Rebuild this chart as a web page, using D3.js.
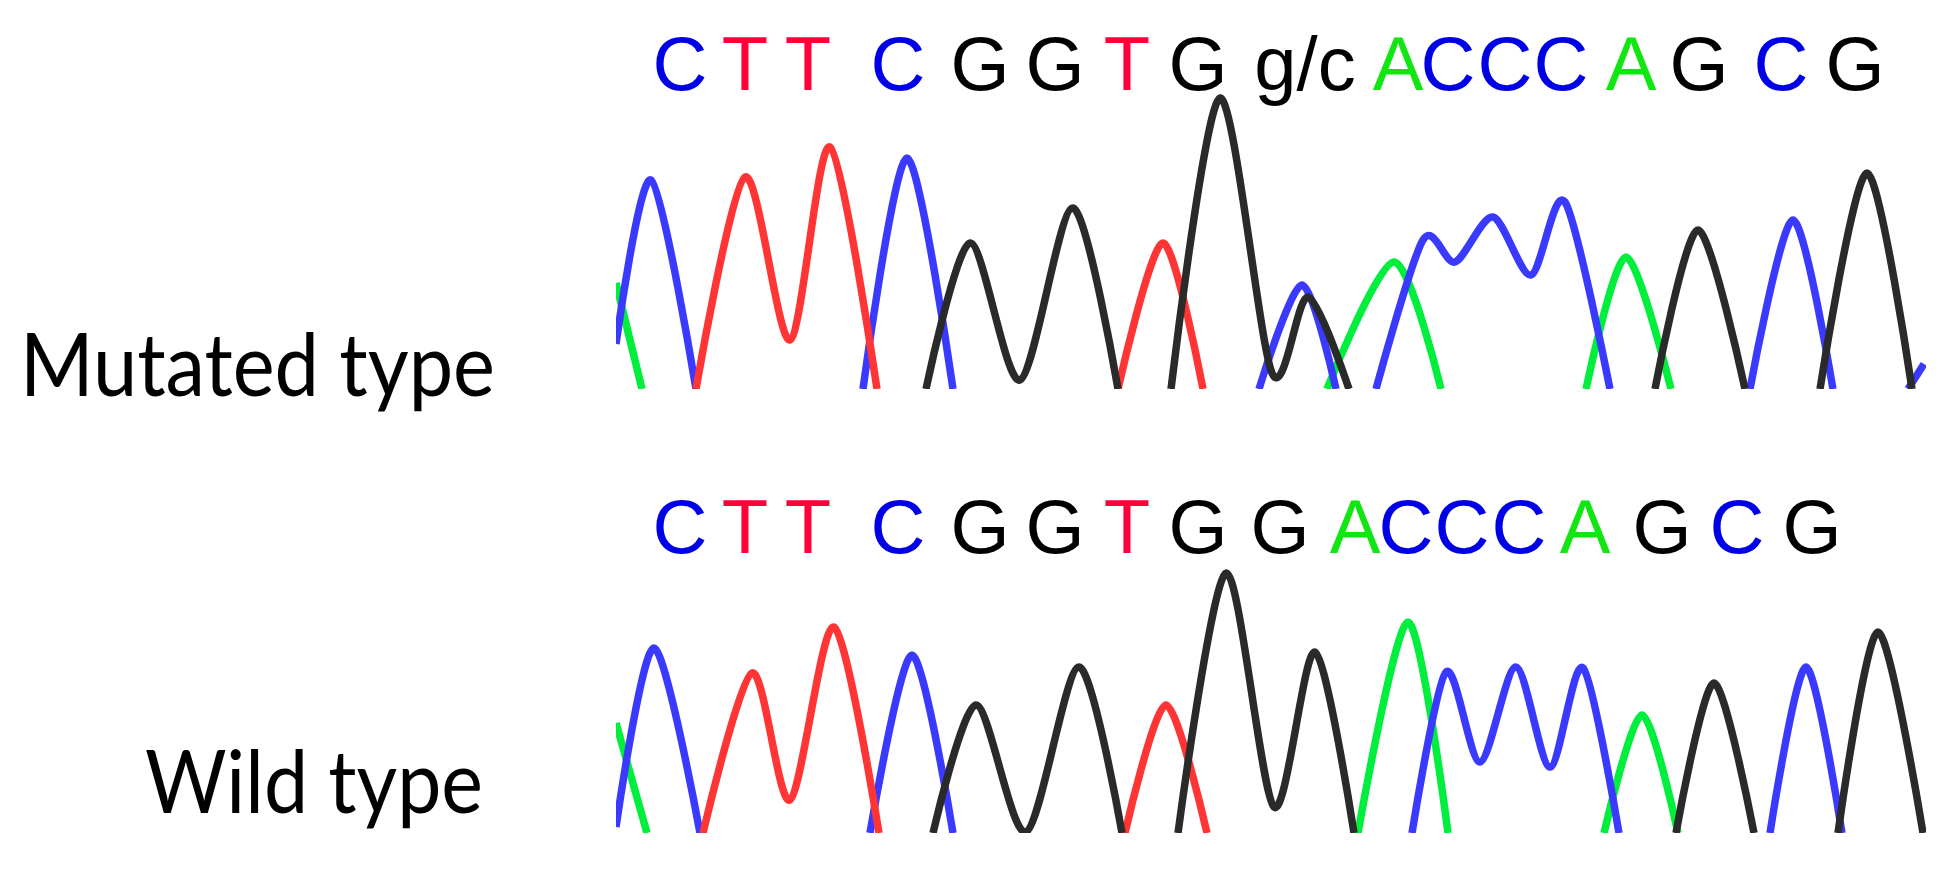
<!DOCTYPE html>
<html>
<head>
<meta charset="utf-8">
<script src="https://cdn.jsdelivr.net/npm/d3@7"></script>
<style>
body{margin:0;background:#fff}
</style>
</head>
<body>
<svg class="chromo"></svg>
<script>
// base calls and where they sit on the scan axis
var mutCalls=["C","T","T","C","G","G","T","G","g/c","A","C","C","C","A","G","C","G"];
var mutCallPos=[64,129,192,282,364,439,511,582,689,782,832,889,945,1015,1083,1165,1239];
var wildCalls=["C","T","T","C","G","G","T","G","G","A","C","C","C","A","G","C","G"];
var wildCallPos=[64,129,192,282,364,439,511,582,664,739,790,846,903,969,1046,1121,1196];

// trace peaks, [scan, signal], one list per drawn piece
var mutA=[[[0,106],[26,0]],
          [[711,0],[778,127],[825,0]],
          [[970,0],[1010,132],[1055,0]]];
var mutC=[[[0,45],[35,209],[80,0]],
          [[247,0],[291,231],[337,0]],
          [[643,0],[686,104],[720,0]],
          [[760,0],[807,149],[839,127],[877,172],[915,114],[949,187],[994,0]],
          [[1134,0],[1177,169],[1217,0]],
          [[1292,0],[1308,25]]];
var mutG=[[[310,0],[354,146],[404,9],[457,181],[502,0]],
          [[555,0],[604,291],[656,16],[692,92],[733,0]],
          [[1039,0],[1082,159],[1129,0]],
          [[1204,0],[1251,216],[1296,0]]];
var mutT=[[[80,0],[129,212],[174,49],[214,242],[261,0]],
          [[502,0],[547,146],[587,0]]];

var wildA=[[[0,110],[31,0]],
           [[742,0],[792,211],[832,0]],
           [[988,0],[1026,118],[1062,0]]];
var wildC=[[[0,6],[38,185],[84,0]],
           [[254,0],[296,178],[337,0]],
           [[796,0],[830,161],[864,71],[900,166],[934,66],[967,165],[1003,0]],
           [[1154,0],[1190,166],[1226,0]]];
var wildG=[[[317,0],[360,128],[410,1],[463,166],[506,0]],
           [[562,0],[610,260],[658,26],[699,181],[738,0]],
           [[1060,0],[1098,150],[1138,0]],
           [[1222,0],[1262,201],[1307,0]]];
var wildT=[[[87,0],[136,160],[174,33],[218,206],[263,0]],
           [[509,0],[550,128],[591,0]]];

var screen=
{
  width:1956,
  height:869
};
var svg=d3.select("svg.chromo")
          .attr("width",screen.width)
          .attr("height",screen.height);

var traceColors={A:"#00ee3c",C:"#3a3aff",G:"#2a2a2a",T:"#ff3434"};
var callColors={A:"#12e612",C:"#0000e6",G:"#000000",T:"#ff0038"};

var xscale=d3.scaleLinear()
             .domain([0,1310])
             .range([616,1926]);

var panels=[
  {label:"Mutated type",labelX:20,labelY:396,labelW:475,base:389,callY:90,
   calls:mutCalls,pos:mutCallPos,traces:{A:mutA,C:mutC,T:mutT,G:mutG}},
  {label:"Wild type",labelX:145,labelY:813,labelW:338,base:833,callY:553,
   calls:wildCalls,pos:wildCallPos,traces:{A:wildA,C:wildC,T:wildT,G:wildG}}
];

var drawPanel=function(p,i)
{
  var yscale=d3.scaleLinear()
               .domain([0,300])
               .range([p.base,p.base-300]);
  var line=d3.line()
             .x(function(d){return xscale(d[0]);})
             .y(function(d){return yscale(d[1]);})
             .curve(d3.curveCardinal.tension(0.15));

  svg.append("clipPath")
     .attr("id","clip"+i)
     .append("rect")
     .attr("x",xscale(0))
     .attr("y",yscale(330))
     .attr("width",xscale(1310)-xscale(0))
     .attr("height",yscale(0)-yscale(330));

  var plot=svg.append("g")
              .attr("clip-path","url(#clip"+i+")");
  ["A","C","T","G"].forEach(function(b){
    plot.selectAll("path.tr"+b)
        .data(p.traces[b])
        .enter()
        .append("path")
        .classed("tr"+b,true)
        .attr("d",line)
        .attr("fill","none")
        .attr("stroke",traceColors[b])
        .attr("stroke-width",7.5)
        .attr("stroke-linejoin","round");
  });

  svg.append("g")
     .selectAll("text")
     .data(p.calls)
     .enter()
     .append("text")
     .attr("x",function(d,j){return xscale(p.pos[j]);})
     .attr("y",p.callY)
     .attr("text-anchor","middle")
     .attr("font-family","Liberation Sans, Arial, sans-serif")
     .attr("font-size",76)
     .attr("fill",function(d){return callColors[d]||"#000";})
     .text(function(d){return d;});

  svg.append("text")
     .attr("x",p.labelX)
     .attr("y",p.labelY)
     .attr("font-family","Lato, sans-serif")
     .attr("font-size",87)
     .attr("textLength",p.labelW)
     .attr("lengthAdjust","spacingAndGlyphs")
     .attr("fill","#000")
     .text(p.label);
};

panels.forEach(drawPanel);
</script>
</body>
</html>
